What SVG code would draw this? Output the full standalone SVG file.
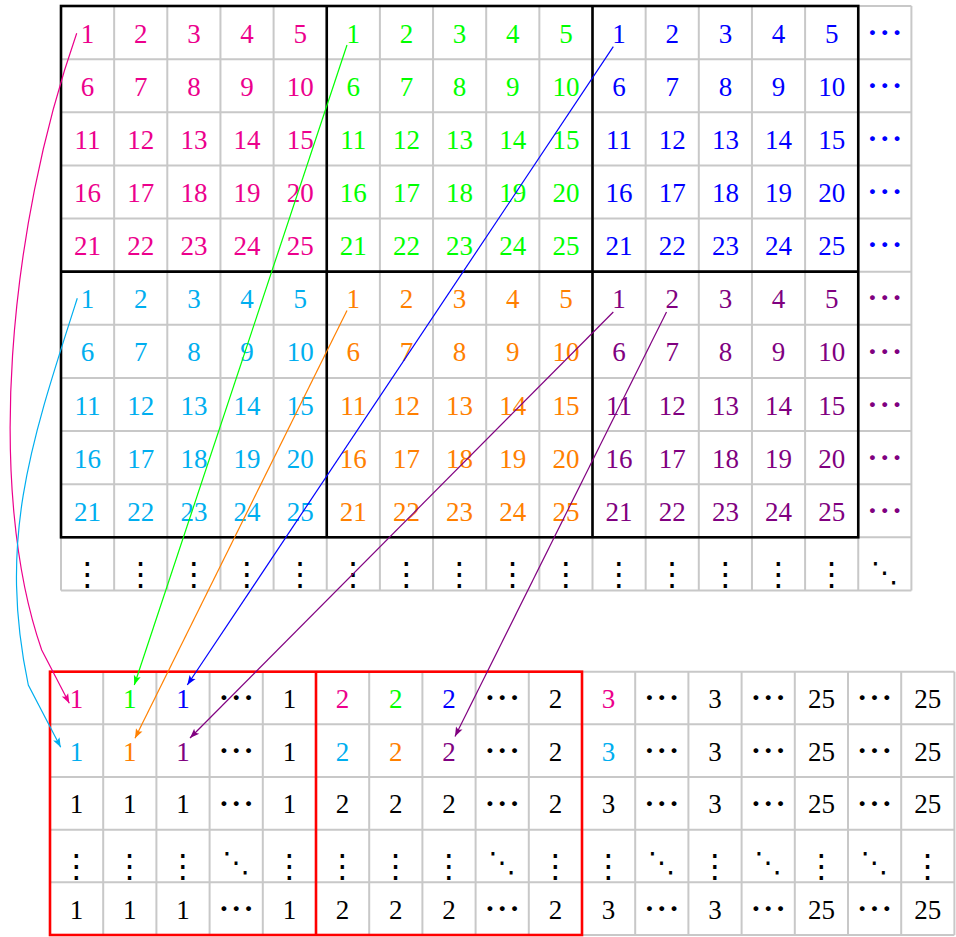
<svg xmlns="http://www.w3.org/2000/svg" width="956" height="937" viewBox="0 0 956 937">
<defs>
<style>
.grid{fill:none;stroke:#c8c8c8;stroke-width:2}
.frame{fill:none;stroke:#000;stroke-width:2.6}
.rframe{fill:none;stroke:#ff0000;stroke-width:2.6}
.n{font-family:'Liberation Serif','Times New Roman',serif;font-size:27px;text-anchor:middle}
.d{font-family:'Noto Sans CJK JP','DejaVu Sans',sans-serif;font-size:37px;text-anchor:middle}
.v{font-family:'Noto Sans CJK JP','DejaVu Sans',sans-serif;font-size:32px;text-anchor:middle}
.dd{font-family:'Noto Sans CJK JP','DejaVu Sans',sans-serif;font-size:28px;text-anchor:middle}
.mag{fill:#ec008c}.grn{fill:#00ff00}.blu{fill:#0000ff}.cya{fill:#00aeef}.org{fill:#ff8000}.pur{fill:#800080}.blk{fill:#000}
.c{fill:none;stroke-width:1.2}
</style>
<marker id="a-mag" viewBox="-1 -5 12 10" refX="9.5" refY="0" markerWidth="12" markerHeight="10" markerUnits="userSpaceOnUse" orient="auto"><path d="M0,-3.6L9.5,0L0,3.6L2,0z" fill="#ec008c"/></marker>
<marker id="a-grn" viewBox="-1 -5 12 10" refX="9.5" refY="0" markerWidth="12" markerHeight="10" markerUnits="userSpaceOnUse" orient="auto"><path d="M0,-3.6L9.5,0L0,3.6L2,0z" fill="#00ff00"/></marker>
<marker id="a-blu" viewBox="-1 -5 12 10" refX="9.5" refY="0" markerWidth="12" markerHeight="10" markerUnits="userSpaceOnUse" orient="auto"><path d="M0,-3.6L9.5,0L0,3.6L2,0z" fill="#0000ff"/></marker>
<marker id="a-cya" viewBox="-1 -5 12 10" refX="9.5" refY="0" markerWidth="12" markerHeight="10" markerUnits="userSpaceOnUse" orient="auto"><path d="M0,-3.6L9.5,0L0,3.6L2,0z" fill="#00aeef"/></marker>
<marker id="a-org" viewBox="-1 -5 12 10" refX="9.5" refY="0" markerWidth="12" markerHeight="10" markerUnits="userSpaceOnUse" orient="auto"><path d="M0,-3.6L9.5,0L0,3.6L2,0z" fill="#ff8000"/></marker>
<marker id="a-pur" viewBox="-1 -5 12 10" refX="9.5" refY="0" markerWidth="12" markerHeight="10" markerUnits="userSpaceOnUse" orient="auto"><path d="M0,-3.6L9.5,0L0,3.6L2,0z" fill="#800080"/></marker>
</defs>
<rect width="956" height="937" fill="#fff"/>

<g id="top-grid">
<path class="grid" d="M61,6V590.43M114.15,6V590.43M167.3,6V590.43M220.45,6V590.43M273.6,6V590.43M326.75,6V590.43M379.9,6V590.43M433.05,6V590.43M486.2,6V590.43M539.35,6V590.43M592.5,6V590.43M645.65,6V590.43M698.8,6V590.43M751.95,6V590.43M805.1,6V590.43M858.25,6V590.43M911.4,6V590.43M61,6H911.4M61,59.13H911.4M61,112.26H911.4M61,165.39H911.4M61,218.52H911.4M61,271.65H911.4M61,324.78H911.4M61,377.91H911.4M61,431.04H911.4M61,484.17H911.4M61,537.3H911.4M61,590.43H911.4"/>
<rect class="frame" x="61" y="6" width="797.25" height="531.3"/>
<path class="frame" d="M326.75,6V537.3M592.5,6V537.3M61,271.65H858.25"/>
</g>

<g id="block-1-1" class="n mag">
<text x="87.6" y="42.6">1</text><text x="140.7" y="42.6">2</text><text x="193.9" y="42.6">3</text><text x="247" y="42.6">4</text><text x="300.2" y="42.6">5</text>
<text x="87.6" y="95.7">6</text><text x="140.7" y="95.7">7</text><text x="193.9" y="95.7">8</text><text x="247" y="95.7">9</text><text x="300.2" y="95.7">10</text>
<text x="87.6" y="148.8">11</text><text x="140.7" y="148.8">12</text><text x="193.9" y="148.8">13</text><text x="247" y="148.8">14</text><text x="300.2" y="148.8">15</text>
<text x="87.6" y="202">16</text><text x="140.7" y="202">17</text><text x="193.9" y="202">18</text><text x="247" y="202">19</text><text x="300.2" y="202">20</text>
<text x="87.6" y="255.1">21</text><text x="140.7" y="255.1">22</text><text x="193.9" y="255.1">23</text><text x="247" y="255.1">24</text><text x="300.2" y="255.1">25</text>
</g>
<g id="block-1-2" class="n grn">
<text x="353.3" y="42.6">1</text><text x="406.5" y="42.6">2</text><text x="459.6" y="42.6">3</text><text x="512.8" y="42.6">4</text><text x="565.9" y="42.6">5</text>
<text x="353.3" y="95.7">6</text><text x="406.5" y="95.7">7</text><text x="459.6" y="95.7">8</text><text x="512.8" y="95.7">9</text><text x="565.9" y="95.7">10</text>
<text x="353.3" y="148.8">11</text><text x="406.5" y="148.8">12</text><text x="459.6" y="148.8">13</text><text x="512.8" y="148.8">14</text><text x="565.9" y="148.8">15</text>
<text x="353.3" y="202">16</text><text x="406.5" y="202">17</text><text x="459.6" y="202">18</text><text x="512.8" y="202">19</text><text x="565.9" y="202">20</text>
<text x="353.3" y="255.1">21</text><text x="406.5" y="255.1">22</text><text x="459.6" y="255.1">23</text><text x="512.8" y="255.1">24</text><text x="565.9" y="255.1">25</text>
</g>
<g id="block-1-3" class="n blu">
<text x="619.1" y="42.6">1</text><text x="672.2" y="42.6">2</text><text x="725.4" y="42.6">3</text><text x="778.5" y="42.6">4</text><text x="831.7" y="42.6">5</text>
<text x="619.1" y="95.7">6</text><text x="672.2" y="95.7">7</text><text x="725.4" y="95.7">8</text><text x="778.5" y="95.7">9</text><text x="831.7" y="95.7">10</text>
<text x="619.1" y="148.8">11</text><text x="672.2" y="148.8">12</text><text x="725.4" y="148.8">13</text><text x="778.5" y="148.8">14</text><text x="831.7" y="148.8">15</text>
<text x="619.1" y="202">16</text><text x="672.2" y="202">17</text><text x="725.4" y="202">18</text><text x="778.5" y="202">19</text><text x="831.7" y="202">20</text>
<text x="619.1" y="255.1">21</text><text x="672.2" y="255.1">22</text><text x="725.4" y="255.1">23</text><text x="778.5" y="255.1">24</text><text x="831.7" y="255.1">25</text>
</g>
<g id="block-1-more" class="d blu">
<text x="884.8" y="46.7">⋯</text><text x="884.8" y="99.8">⋯</text><text x="884.8" y="152.9">⋯</text><text x="884.8" y="206.1">⋯</text><text x="884.8" y="259.2">⋯</text>
</g>
<g id="block-2-1" class="n cya">
<text x="87.6" y="308.2">1</text><text x="140.7" y="308.2">2</text><text x="193.9" y="308.2">3</text><text x="247" y="308.2">4</text><text x="300.2" y="308.2">5</text>
<text x="87.6" y="361.4">6</text><text x="140.7" y="361.4">7</text><text x="193.9" y="361.4">8</text><text x="247" y="361.4">9</text><text x="300.2" y="361.4">10</text>
<text x="87.6" y="414.5">11</text><text x="140.7" y="414.5">12</text><text x="193.9" y="414.5">13</text><text x="247" y="414.5">14</text><text x="300.2" y="414.5">15</text>
<text x="87.6" y="467.6">16</text><text x="140.7" y="467.6">17</text><text x="193.9" y="467.6">18</text><text x="247" y="467.6">19</text><text x="300.2" y="467.6">20</text>
<text x="87.6" y="520.7">21</text><text x="140.7" y="520.7">22</text><text x="193.9" y="520.7">23</text><text x="247" y="520.7">24</text><text x="300.2" y="520.7">25</text>
</g>
<g id="block-2-2" class="n org">
<text x="353.3" y="308.2">1</text><text x="406.5" y="308.2">2</text><text x="459.6" y="308.2">3</text><text x="512.8" y="308.2">4</text><text x="565.9" y="308.2">5</text>
<text x="353.3" y="361.4">6</text><text x="406.5" y="361.4">7</text><text x="459.6" y="361.4">8</text><text x="512.8" y="361.4">9</text><text x="565.9" y="361.4">10</text>
<text x="353.3" y="414.5">11</text><text x="406.5" y="414.5">12</text><text x="459.6" y="414.5">13</text><text x="512.8" y="414.5">14</text><text x="565.9" y="414.5">15</text>
<text x="353.3" y="467.6">16</text><text x="406.5" y="467.6">17</text><text x="459.6" y="467.6">18</text><text x="512.8" y="467.6">19</text><text x="565.9" y="467.6">20</text>
<text x="353.3" y="520.7">21</text><text x="406.5" y="520.7">22</text><text x="459.6" y="520.7">23</text><text x="512.8" y="520.7">24</text><text x="565.9" y="520.7">25</text>
</g>
<g id="block-2-3" class="n pur">
<text x="619.1" y="308.2">1</text><text x="672.2" y="308.2">2</text><text x="725.4" y="308.2">3</text><text x="778.5" y="308.2">4</text><text x="831.7" y="308.2">5</text>
<text x="619.1" y="361.4">6</text><text x="672.2" y="361.4">7</text><text x="725.4" y="361.4">8</text><text x="778.5" y="361.4">9</text><text x="831.7" y="361.4">10</text>
<text x="619.1" y="414.5">11</text><text x="672.2" y="414.5">12</text><text x="725.4" y="414.5">13</text><text x="778.5" y="414.5">14</text><text x="831.7" y="414.5">15</text>
<text x="619.1" y="467.6">16</text><text x="672.2" y="467.6">17</text><text x="725.4" y="467.6">18</text><text x="778.5" y="467.6">19</text><text x="831.7" y="467.6">20</text>
<text x="619.1" y="520.7">21</text><text x="672.2" y="520.7">22</text><text x="725.4" y="520.7">23</text><text x="778.5" y="520.7">24</text><text x="831.7" y="520.7">25</text>
</g>
<g id="block-2-more" class="d pur">
<text x="884.8" y="312.3">⋯</text><text x="884.8" y="365.5">⋯</text><text x="884.8" y="418.6">⋯</text><text x="884.8" y="471.7">⋯</text><text x="884.8" y="524.8">⋯</text>
</g>
<g id="top-more-rows" class="v blk">
<text x="87.6" y="584.6">⋮</text><text x="140.7" y="584.6">⋮</text><text x="193.9" y="584.6">⋮</text><text x="247" y="584.6">⋮</text><text x="300.2" y="584.6">⋮</text>
<text x="353.3" y="584.6">⋮</text><text x="406.5" y="584.6">⋮</text><text x="459.6" y="584.6">⋮</text><text x="512.8" y="584.6">⋮</text><text x="565.9" y="584.6">⋮</text>
<text x="619.1" y="584.6">⋮</text><text x="672.2" y="584.6">⋮</text><text x="725.4" y="584.6">⋮</text><text x="778.5" y="584.6">⋮</text><text x="831.7" y="584.6">⋮</text>
<text class="dd" x="884.8" y="582">⋱</text>
</g>

<g id="bottom-grid">
<path class="grid" d="M50,671.7V935M103.2,671.7V935M156.4,671.7V935M209.6,671.7V935M262.8,671.7V935M316,671.7V935M369.2,671.7V935M422.4,671.7V935M475.6,671.7V935M528.8,671.7V935M582,671.7V935M635.2,671.7V935M688.4,671.7V935M741.6,671.7V935M794.8,671.7V935M848,671.7V935M901.2,671.7V935M954.4,671.7V935M50,671.7H954.4M50,724.36H954.4M50,777.02H954.4M50,829.68H954.4M50,882.34H954.4M50,935H954.4"/>
<rect class="rframe" x="50" y="671.7" width="532" height="263.3"/>
<path class="rframe" d="M316,671.7V935"/>
</g>

<g id="result" class="n blk">
<text class="mag" x="76.6" y="708">1</text><text class="grn" x="129.8" y="708">1</text><text class="blu" x="183" y="708">1</text><text x="289.4" y="708">1</text>
<text class="mag" x="342.6" y="708">2</text><text class="grn" x="395.8" y="708">2</text><text class="blu" x="449" y="708">2</text><text x="555.4" y="708">2</text>
<text class="mag" x="608.6" y="708">3</text><text x="715" y="708">3</text><text x="821.4" y="708">25</text><text x="927.8" y="708">25</text>
<text class="cya" x="76.6" y="760.7">1</text><text class="org" x="129.8" y="760.7">1</text><text class="pur" x="183" y="760.7">1</text><text x="289.4" y="760.7">1</text>
<text class="cya" x="342.6" y="760.7">2</text><text class="org" x="395.8" y="760.7">2</text><text class="pur" x="449" y="760.7">2</text><text x="555.4" y="760.7">2</text>
<text class="cya" x="608.6" y="760.7">3</text><text x="715" y="760.7">3</text><text x="821.4" y="760.7">25</text><text x="927.8" y="760.7">25</text>
<text x="76.6" y="813.4">1</text><text x="129.8" y="813.4">1</text><text x="183" y="813.4">1</text><text x="289.4" y="813.4">1</text>
<text x="342.6" y="813.4">2</text><text x="395.8" y="813.4">2</text><text x="449" y="813.4">2</text><text x="555.4" y="813.4">2</text>
<text x="608.6" y="813.4">3</text><text x="715" y="813.4">3</text><text x="821.4" y="813.4">25</text><text x="927.8" y="813.4">25</text>
<text x="76.6" y="918.7">1</text><text x="129.8" y="918.7">1</text><text x="183" y="918.7">1</text><text x="289.4" y="918.7">1</text>
<text x="342.6" y="918.7">2</text><text x="395.8" y="918.7">2</text><text x="449" y="918.7">2</text><text x="555.4" y="918.7">2</text>
<text x="608.6" y="918.7">3</text><text x="715" y="918.7">3</text><text x="821.4" y="918.7">25</text><text x="927.8" y="918.7">25</text>
</g>
<g id="result-dots" class="d blk">
<text x="236.2" y="712.1">⋯</text><text x="502.2" y="712.1">⋯</text><text x="661.8" y="712.1">⋯</text><text x="768.2" y="712.1">⋯</text><text x="874.6" y="712.1">⋯</text>
<text x="236.2" y="764.8">⋯</text><text x="502.2" y="764.8">⋯</text><text x="661.8" y="764.8">⋯</text><text x="768.2" y="764.8">⋯</text><text x="874.6" y="764.8">⋯</text>
<text x="236.2" y="817.5">⋯</text><text x="502.2" y="817.5">⋯</text><text x="661.8" y="817.5">⋯</text><text x="768.2" y="817.5">⋯</text><text x="874.6" y="817.5">⋯</text>
<text x="236.2" y="922.8">⋯</text><text x="502.2" y="922.8">⋯</text><text x="661.8" y="922.8">⋯</text><text x="768.2" y="922.8">⋯</text><text x="874.6" y="922.8">⋯</text>
</g>
<g id="result-vdots" class="v blk">
<text x="76.6" y="876.7">⋮</text><text x="129.8" y="876.7">⋮</text><text x="183" y="876.7">⋮</text><text class="dd" x="236.2" y="871.5">⋱</text><text x="289.4" y="876.7">⋮</text>
<text x="342.6" y="876.7">⋮</text><text x="395.8" y="876.7">⋮</text><text x="449" y="876.7">⋮</text><text class="dd" x="502.2" y="871.5">⋱</text><text x="555.4" y="876.7">⋮</text>
<text x="608.6" y="876.7">⋮</text><text class="dd" x="661.8" y="871.5">⋱</text><text x="715" y="876.7">⋮</text><text class="dd" x="768.2" y="871.5">⋱</text><text x="821.4" y="876.7">⋮</text><text class="dd" x="874.6" y="871.5">⋱</text><text x="927.8" y="876.7">⋮</text>
</g>

<g id="connectors">
<path class="c" stroke="#ec008c" stroke-width="1.5" d="M76.7,33.3C8,230 -14,490 41.7,650L69.3,703.3" marker-end="url(#a-mag)"/>
<path class="c" stroke="#00aeef" stroke-width="1.5" d="M77.3,298.3C30,445 -2,540 28.3,685L60.7,747.3" marker-end="url(#a-cya)"/>
<path class="c" stroke="#00ff00" d="M347,45L134.3,685" marker-end="url(#a-grn)"/>
<path class="c" stroke="#0000ff" d="M613.3,46.7L187.3,685" marker-end="url(#a-blu)"/>
<path class="c" stroke="#ff8000" d="M347,310.6L135,738.3" marker-end="url(#a-org)"/>
<path class="c" stroke="#800080" d="M613.3,312L190,738" marker-end="url(#a-pur)"/>
<path class="c" stroke="#800080" d="M666.5,312L455,736.5" marker-end="url(#a-pur)"/>
</g>
</svg>
